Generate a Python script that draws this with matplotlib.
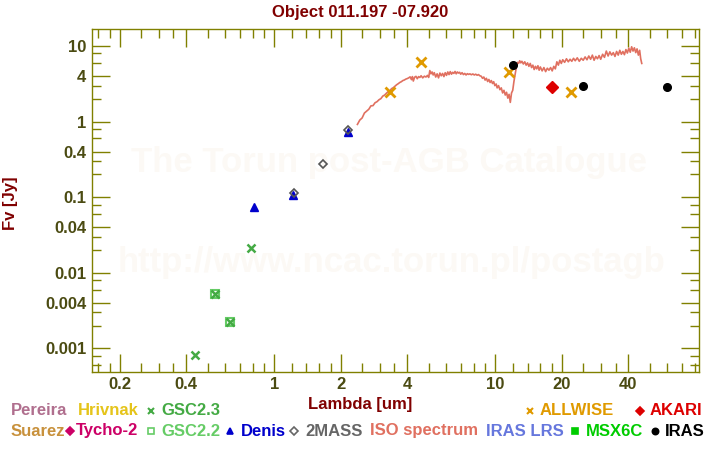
import numpy as np
import matplotlib
matplotlib.use('Agg')
import matplotlib.pyplot as plt
from matplotlib.lines import Line2D

plt.rcParams['font.family'] = ['Liberation Sans', 'DejaVu Sans']
plt.rcParams['font.weight'] = 'bold'

# photometry (wavelength in um, flux in Jy)
gsc23_wave = [0.437, 0.541, 0.633, 0.786]
gsc23_flux = [0.00081, 0.0053, 0.0022, 0.021]
gsc22_wave = [0.541, 0.633]
gsc22_flux = [0.0053, 0.0022]
denis_wave = [0.81, 1.22, 2.15]
denis_flux = [0.075, 0.108, 0.73]
mass_wave = [1.235, 1.66, 2.16]
mass_flux = [0.113, 0.277, 0.78]
allwise_wave = [3.35, 4.6, 11.6, 22.1]
allwise_flux = [2.46, 6.1, 4.6, 2.44]
akari_wave = [18.0]
akari_flux = [2.84]
iras_wave = [12.0, 25.0, 60.0]
iras_flux = [5.6, 3.0, 2.86]

# ISO spectrum
iso_wave = [2.38, 2.44, 2.50, 2.56, 2.62, 2.68, 2.74, 2.80, 2.86, 2.92, 2.98, 3.04,
            3.10, 3.16, 3.22, 3.28, 3.34, 3.40, 3.46, 3.52, 3.58, 3.64, 3.70, 3.76,
            3.82, 3.88, 3.94, 4.00, 4.06, 4.12, 4.18, 4.22, 4.26, 4.32, 4.38, 4.44,
            4.50, 4.56, 4.62, 4.70, 4.78, 4.86, 4.94, 5.00, 5.06, 5.12, 5.18, 5.24,
            5.30, 5.38, 5.46, 5.54, 5.62, 5.70, 5.78, 5.86, 5.94, 6.02, 6.10, 6.18,
            6.26, 6.34, 6.42, 6.50, 6.58, 6.66, 6.74, 6.82, 6.90, 6.98, 7.08, 7.18,
            7.28, 7.38, 7.48, 7.58, 7.68, 7.80, 7.92, 8.04, 8.16, 8.28, 8.40, 8.52,
            8.64, 8.76, 8.88, 9.00, 9.12, 9.24, 9.36, 9.48, 9.60, 9.72, 9.84, 9.96,
            10.1, 10.2, 10.35, 10.5, 10.65, 10.8, 10.95, 11.1, 11.25, 11.4, 11.55, 11.7,
            11.85, 12.0, 12.15, 12.3, 12.45, 12.6, 12.75, 12.9, 13.05, 13.2, 13.4, 13.6,
            13.8, 14.0, 14.2, 14.4, 14.6, 14.8, 15.0, 15.2, 15.4, 15.6, 15.8, 16.0,
            16.3, 16.6, 16.9, 17.2, 17.5, 17.8, 18.1, 18.4, 18.7, 19.0, 19.3, 19.6,
            19.9, 20.2, 20.6, 21.0, 21.4, 21.8, 22.2, 22.6, 23.0, 23.5, 24.0, 24.5,
            25.0, 25.5, 26.0, 26.5, 27.0, 27.5, 28.0, 28.5, 29.0, 29.5, 30.0, 30.6,
            31.2, 31.8, 32.4, 33.0, 33.6, 34.2, 34.8, 35.4, 36.0, 36.6, 37.2, 37.8,
            38.4, 39.0, 39.6, 40.2, 40.8, 41.4, 42.0, 42.6, 43.2, 43.8, 44.4, 45.0,
            45.5, 46.0]
iso_flux = [0.92, 1.05, 1.12, 1.30, 1.38, 1.46, 1.62, 1.63, 1.78, 1.84, 1.95, 2.02,
            2.18, 2.25, 2.38, 2.50, 2.58, 2.74, 2.82, 2.95, 3.08, 3.18, 3.30, 3.38,
            3.50, 3.56, 3.66, 3.72, 3.80, 3.92, 3.60, 3.95, 3.45, 3.88, 3.98, 3.70,
            3.95, 3.85, 4.05, 3.80, 4.00, 3.90, 4.10, 3.85, 4.75, 4.30, 4.55, 4.15,
            4.45, 3.90, 4.30, 3.80, 4.40, 4.05, 4.35, 3.95, 4.45, 4.10, 4.55, 4.20,
            4.60, 4.25, 4.50, 4.35, 4.62, 4.30, 4.55, 4.40, 4.50, 4.25, 4.45, 4.20,
            4.35, 4.15, 4.32, 4.22, 4.30, 4.18, 4.28, 4.15, 4.25, 4.12, 4.20, 4.05,
            4.00, 3.75, 3.90, 3.55, 3.75, 3.40, 3.62, 3.30, 3.50, 3.20, 3.38, 3.00,
            3.15, 2.80, 3.00, 2.65, 2.80, 2.40, 2.60, 2.25, 2.45, 2.05, 2.30, 1.80,
            2.40, 2.60, 3.40, 4.20, 5.20, 6.10, 5.90, 6.40, 6.00, 6.30, 5.80, 6.20,
            5.60, 6.00, 5.40, 5.90, 5.20, 5.60, 4.90, 5.40, 5.00, 5.50, 4.80, 5.30,
            4.70, 5.20, 4.60, 5.10, 4.80, 5.20, 4.70, 5.40, 5.00, 6.20, 5.60, 6.50,
            5.90, 6.60, 6.10, 6.80, 6.20, 6.70, 6.30, 6.90, 6.40, 7.00, 6.30, 6.90,
            6.50, 7.20, 6.60, 7.40, 6.70, 7.60, 6.50, 7.30, 6.80, 7.50, 6.70, 7.80,
            7.10, 8.60, 7.40, 8.40, 7.60, 8.20, 7.30, 8.50, 7.60, 8.80, 7.80, 8.50,
            7.70, 9.00, 8.10, 9.40, 8.30, 9.80, 8.60, 9.50, 8.20, 9.20, 7.60, 8.80,
            6.80, 5.90]

x_major = [0.2, 0.4, 1, 2, 4, 10, 20, 40]
x_major_labels = ['0.2', '0.4', '1', '2', '4', '10', '20', '40']
y_major = [0.001, 0.004, 0.01, 0.04, 0.1, 0.4, 1, 4, 10]
y_major_labels = ['0.001', '0.004', '0.01', '0.04', '0.1', '0.4', '1', '4', '10']

axis_col = '#808000'
label_col = '#4b4b12'
title_col = '#800000'

fig = plt.figure(figsize=(7.2, 4.5), dpi=100)
ax = fig.add_axes([92 / 720, 1 - 371.7 / 450, 607 / 720, 342.4 / 450])
ax.set_xscale('log')
ax.set_yscale('log')

# watermark
wm = '#fcf9f5'
ax.text(0.489, 0.612, 'The Torun post-AGB Catalogue', transform=ax.transAxes,
        ha='center', va='center', fontsize=25, color=wm, zorder=0)
ax.text(0.493, 0.32, 'http://www.ncac.torun.pl/postagb', transform=ax.transAxes,
        ha='center', va='center', fontsize=25, color=wm, zorder=0)

ax.plot(iso_wave, iso_flux, color='#e07060', lw=1.2, zorder=2)

ax.plot(gsc22_wave, gsc22_flux, 's', ms=5.5, mfc='none', mec='#66cc66', mew=1.5, zorder=3)
ax.plot(gsc23_wave, gsc23_flux, 'x', ms=6, color='#44aa44', mew=1.8, zorder=4)
ax.plot(denis_wave, denis_flux, '^', ms=6, color='#0000cc', zorder=4)
ax.plot(mass_wave, mass_flux, 'D', ms=4.5, mfc='none', mec='#555555', mew=1.2, zorder=5)
ax.plot(allwise_wave, allwise_flux, 'x', ms=7, color='#e09a00', mew=2, zorder=4)
ax.plot(akari_wave, akari_flux, 'D', ms=6, color='#dd0000', zorder=4)
ax.plot(iras_wave, iras_flux, 'o', ms=5.5, color='black', zorder=4)

# ticks
minor_x = []
for d in [0.1, 1, 10]:
    for m in [1.2, 1.4, 1.6, 1.8, 2.5, 3, 3.5, 5, 6, 7, 8, 9]:
        minor_x.append(d * m)
minor_y = []
for d in [1e-4, 1e-3, 1e-2, 1e-1, 1, 10]:
    for m in [2, 3, 6, 8]:
        minor_y.append(d * m)
ax.set_xticks(x_major)
ax.set_xticklabels(x_major_labels)
ax.set_xticks(minor_x, minor=True)
ax.set_xticklabels([], minor=True)
ax.set_yticks(y_major)
ax.set_yticklabels(y_major_labels)
ax.set_yticks(minor_y, minor=True)
ax.set_yticklabels([], minor=True)
ax.set_xlim(0.150, 83.5)
ax.set_ylim(4.9e-4, 16.7)

ax.tick_params(which='both', direction='in', top=True, right=True, color=axis_col,
               width=1.0, labelcolor=label_col, labelsize=12)
ax.tick_params(which='major', length=13, pad=4)
ax.tick_params(which='minor', length=6.5)
for s in ax.spines.values():
    s.set_color(axis_col)
    s.set_linewidth(1.0)

fig.text(0.5, 1 - 12 / 450, 'Object 011.197 -07.920', ha='center', va='center',
         color=title_col, fontsize=12, fontweight='bold')
fig.text(0.5, 1 - 405 / 450, 'Lambda [um]', ha='center', va='center',
         color=title_col, fontsize=12, fontweight='bold')
fig.text(10 / 720, 1 - 203 / 450, 'Fv [Jy]', ha='center', va='center', rotation=90,
         color=title_col, fontsize=12, fontweight='bold')

# legend drawn as text rows under the axes
legend_labels = ['Pereira', 'Hrivnak', 'GSC2.3', 'ALLWISE', 'AKARI',
                 'Suarez', 'Tycho-2', 'GSC2.2', 'Denis', '2MASS',
                 'ISO spectrum', 'IRAS LRS', 'MSX6C', 'IRAS']
legend_colors = ['#b06f8e', '#e5c41a', '#44aa44', '#e09a00', '#dd0000',
                 '#c8913c', '#cc0066', '#66cc66', '#0000cc', '#666666',
                 '#e07060', '#6677dd', '#00cc00', '#000000']
legend_markers = [None, None, 'x', 'x', 'D',
                  None, 'D', 's', '^', 'D',
                  None, None, 's', 'o']
legend_open = [False, False, False, False, False,
               False, False, True, False, True,
               False, False, False, False]
legend_x = [11, 78, 161, 540, 650, 11, 76, 161, 241, 305, 370, 486, 586, 665]
legend_mx = [None, None, 151, 530, 640, None, 70, 151, 230, 294, None, None, 575, 655]
legend_row = [410.5] * 5 + [431] * 9

for lab, col, mk, op, x, mx, y in zip(legend_labels, legend_colors, legend_markers,
                                      legend_open, legend_x, legend_mx, legend_row):
    fig.text(x / 720, 1 - y / 450, lab, ha='left', va='center', color=col,
             fontsize=12, fontweight='bold')
    if mk is not None:
        ms = 5 if mk in ('x', 's') else 4.5
        ln = Line2D([mx / 720], [1 - y / 450], marker=mk, ms=ms, color=col,
                    mfc='none' if op else col, mew=1.5 if mk == 'x' else 1.2,
                    transform=fig.transFigure)
        fig.add_artist(ln)

fig.savefig('out.png', dpi=100)
